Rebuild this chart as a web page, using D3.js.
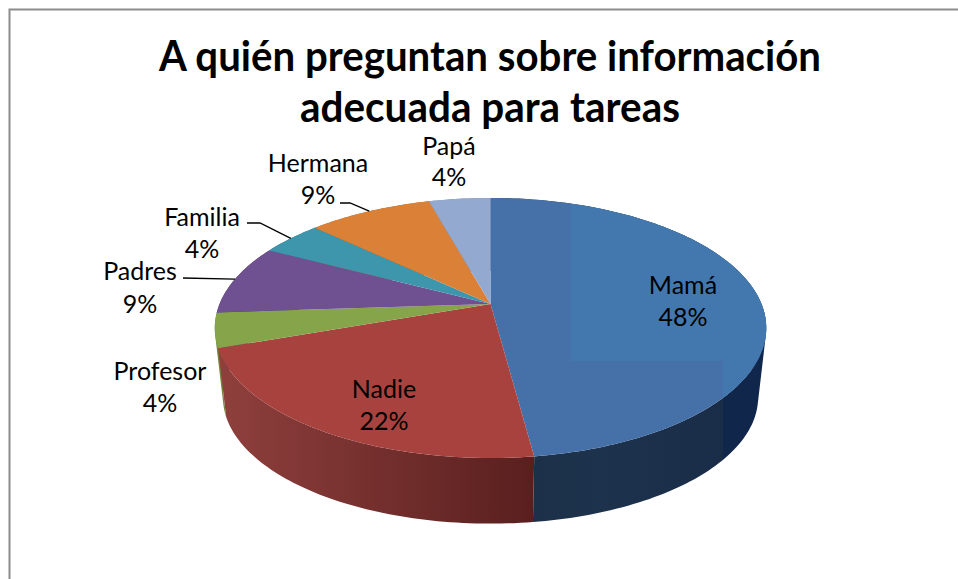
<!DOCTYPE html>
<html>
<head>
<meta charset="utf-8">
<script src="https://cdn.jsdelivr.net/npm/d3@7"></script>
<style>
  html, body { margin: 0; padding: 0; background: #fff; }
  svg { display: block; }
  text { font-family: Lato, sans-serif; fill: #000; }
</style>
</head>
<body>
<div id="chart"></div>
<script>
var width = 958, height = 579;

// data
var categories = ["Mamá", "Nadie", "Profesor", "Padres", "Familia", "Hermana", "Papá"];
var values = [47.8, 21.7, 4.3, 8.7, 4.3, 8.7, 4.3];
var title_lines = ["A quién preguntan sobre información", "adecuada para tareas"];

// styles, same order as categories
var top_colors = ["#4571a8", "#a8423f", "#86a44a", "#6f5090", "#3e96ad", "#da8137", "#93a9cf"];
var wall_left = ["#1f3651", "#8f403d", "#6d8a38", "#573f73", "#2f7488", "#a8632a", "#7286a6"];
var wall_right = ["#152a48", "#591f1e", "#6d8a38", "#573f73", "#2f7488", "#a8632a", "#7286a6"];

// label placement: centre x, first baseline, second baseline
var label_pos = [
    [683, 294, 326], [384, 398, 430], [160, 380, 412], [140, 280, 313],
    [202, 226, 258], [318, 172, 204], [449, 155, 186]
];
// leader lines start at the label side, the end is on the pie rim
var leader_start = {3: [[183, 278]], 4: [[247, 223], [260, 223]], 5: [[340, 203], [350, 203]]};

var svg = d3.select("#chart").append("svg")
    .attr("width", width)
    .attr("height", height);
var defs = svg.append("defs");

// chart frame, cut off by the picture at right and bottom
svg.append("path")
    .attr("d", "M9.5," + height + "V9.5H" + width)
    .attr("fill", "none")
    .attr("stroke", "#8c8c8c")
    .attr("stroke-width", 2);

// perspective disc: u goes right, v goes to the viewer
var persp = 0.1846;
var top_face = {cx: 490.5, cy: 304, a: 125.6, b: 271};
var bottom_face = {cx: 490.5, cy: 374, a: 122, b: 263};

function project(face, angle, r) {
    var u = r * Math.sin(angle), v = -r * Math.cos(angle);
    var k = 1 - persp * v;
    return [face.cx + face.b * u / k, face.cy + face.a * v / k];
}

function rim(face, a0, a1) {
    var n = Math.max(2, Math.ceil((a1 - a0) / 0.02));
    return d3.range(n + 1).map(function(i) {
        return project(face, a0 + (a1 - a0) * i / n, 1);
    });
}

var slices = d3.pie().sort(null).value(function(d) { return d; })(values);
var line = d3.line();

// walls first, back to front so the near ones stay on top
var wall_order = d3.range(slices.length).sort(function(i, j) {
    return Math.abs(Math.PI - (slices[j].startAngle + slices[j].endAngle) / 2)
         - Math.abs(Math.PI - (slices[i].startAngle + slices[i].endAngle) / 2);
});

wall_order.forEach(function(i) {
    var s = slices[i];
    var up = rim(top_face, s.startAngle, s.endAngle);
    var down = rim(bottom_face, s.startAngle, s.endAngle);
    var xs = up.concat(down).map(function(p) { return p[0]; });
    var grad = defs.append("linearGradient")
        .attr("id", "wall" + i)
        .attr("gradientUnits", "userSpaceOnUse")
        .attr("x1", d3.min(xs)).attr("x2", d3.max(xs))
        .attr("y1", 0).attr("y2", 0);
    if (i == 0) {
        // the big slice goes from dark grey blue at the front to navy at the right
        grad.append("stop").attr("offset", 0.17).attr("stop-color", "#1c3049");
        grad.append("stop").attr("offset", 0.4).attr("stop-color", "#1d324c");
        grad.append("stop").attr("offset", 0.845).attr("stop-color", "#1a2d48");
        grad.append("stop").attr("offset", 0.845).attr("stop-color", "#10264b");
        grad.append("stop").attr("offset", 1).attr("stop-color", "#10264b");
    } else {
        grad.append("stop").attr("offset", 0).attr("stop-color", wall_left[i]);
        grad.append("stop").attr("offset", 1).attr("stop-color", wall_right[i]);
    }
    // one quad per rim step, together they also fill out to the silhouette;
    // all wound the same way or the overlaps at the silhouette cancel out
    var d = "";
    d3.range(up.length - 1).forEach(function(k) {
        var quad = [up[k], up[k + 1], down[k + 1], down[k]];
        if (d3.polygonArea(quad) < 0) quad.reverse();
        d += line(quad) + "Z";
    });
    svg.append("path")
        .attr("d", d)
        .attr("fill", "url(#wall" + i + ")");
});

// top faces
slices.forEach(function(s, i) {
    var d = line([[top_face.cx, top_face.cy]].concat(rim(top_face, s.startAngle, s.endAngle))) + "Z";
    svg.append("path").attr("d", d).attr("fill", top_colors[i]);
    if (i == 0) {
        // lighter block on the right part of the big slice
        defs.append("clipPath").attr("id", "mama_clip").append("path").attr("d", d);
        svg.append("path")
            .attr("clip-path", "url(#mama_clip)")
            .attr("d", "M571,190H780V480H723V361H571Z")
            .attr("fill", "#4278ae");
    }
});

// leader lines
Object.keys(leader_start).forEach(function(k) {
    var s = slices[+k];
    var end = project(top_face, (s.startAngle + s.endAngle) / 2, 1);
    svg.append("path")
        .attr("d", line(leader_start[k].concat([end])))
        .attr("fill", "none")
        .attr("stroke", "#000")
        .attr("stroke-width", 1.3);
});

// data labels
categories.forEach(function(c, i) {
    var pos = label_pos[i];
    var g = svg.append("g").attr("text-anchor", "middle").style("font-size", "25px");
    g.append("text").attr("x", pos[0]).attr("y", pos[1]).text(c);
    g.append("text").attr("x", pos[0]).attr("y", pos[2]).text(Math.round(values[i]) + "%");
});

// title
var title_y = [71, 122];
var title_w = [662, 380];
title_lines.forEach(function(t, i) {
    svg.append("text")
        .attr("x", 490)
        .attr("y", title_y[i])
        .attr("text-anchor", "middle")
        .attr("textLength", title_w[i])
        .attr("lengthAdjust", "spacingAndGlyphs")
        .style("font-size", "42px")
        .style("font-weight", "bold")
        .text(t);
});
</script>
</body>
</html>
